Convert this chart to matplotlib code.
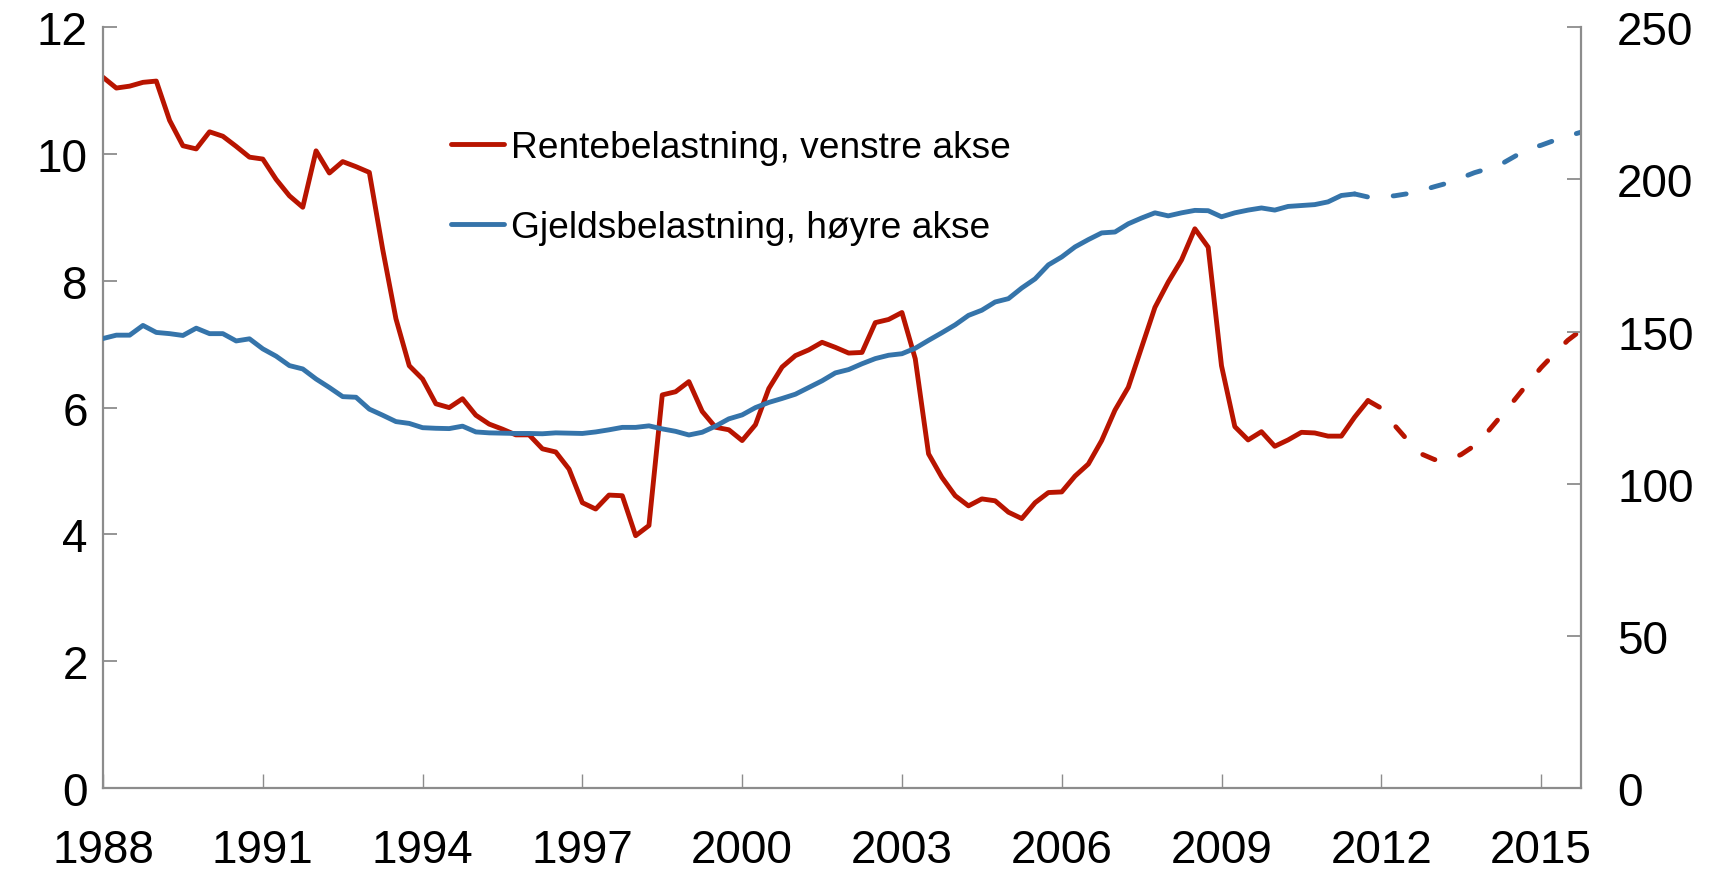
import matplotlib
matplotlib.use("Agg")
import matplotlib.pyplot as plt
import numpy as np

# Quarterly data from 1988Q1
START_YEAR = 1988

# Rentebelastning (left axis), actual 1988Q1-2011Q4
rente = [11.21, 11.04, 11.07, 11.13, 11.15, 10.53, 10.13, 10.08, 10.35, 10.28,
         10.12, 9.95, 9.92, 9.60, 9.34, 9.16, 10.05, 9.70, 9.88, 9.80,
         9.71, 8.50, 7.40, 6.66, 6.45, 6.06, 6.00, 6.14, 5.88, 5.74,
         5.66, 5.57, 5.57, 5.35, 5.30, 5.03, 4.50, 4.40, 4.62, 4.61,
         3.98, 4.14, 6.20, 6.25, 6.41, 5.94, 5.69, 5.65, 5.48, 5.73,
         6.30, 6.64, 6.82, 6.91, 7.03, 6.95, 6.86, 6.87, 7.34, 7.39,
         7.50, 6.77, 5.27, 4.90, 4.61, 4.45, 4.56, 4.53, 4.35, 4.25,
         4.50, 4.66, 4.67, 4.92, 5.11, 5.48, 5.96, 6.32, 6.95, 7.58,
         7.98, 8.33, 8.82, 8.53, 6.66, 5.70, 5.49, 5.62, 5.39, 5.49,
         5.61, 5.60, 5.55, 5.55, 5.85, 6.11]
# projection, starts at last actual quarter
rente_prognose = [6.11, 5.99, 5.72, 5.48, 5.27, 5.18, 5.17, 5.26, 5.40,
                  5.62, 5.87, 6.12, 6.38, 6.63, 6.85, 7.06, 7.22]

# Gjeldsbelastning (right axis), actual 1988Q1-2011Q3
gjeld = [147.7, 148.8, 148.8, 152.0, 149.7, 149.3, 148.7, 151.1, 149.3, 149.3,
         146.9, 147.6, 144.3, 141.9, 138.8, 137.7, 134.4, 131.6, 128.6, 128.4,
         124.5, 122.5, 120.4, 119.8, 118.4, 118.2, 118.1, 118.9, 117.0, 116.7,
         116.6, 116.5, 116.5, 116.4, 116.7, 116.6, 116.5, 117.0, 117.7, 118.5,
         118.5, 119.0, 118.0, 117.2, 116.0, 116.9, 118.9, 121.3, 122.6, 125.0,
         126.7, 128.0, 129.4, 131.6, 133.8, 136.4, 137.5, 139.4, 141.1, 142.2,
         142.7, 144.5, 147.1, 149.6, 152.2, 155.3, 157.0, 159.7, 160.8, 164.3,
         167.3, 171.9, 174.5, 177.8, 180.2, 182.4, 182.7, 185.4, 187.3, 189.0,
         188.0, 189.0, 189.8, 189.7, 187.7, 189.0, 189.9, 190.6, 189.9, 191.1,
         191.4, 191.7, 192.6, 194.7, 195.2]
gjeld_prognose = [195.2, 194.2, 194.3, 194.6, 195.3, 196.3, 197.6, 198.8, 200.5,
                  202.2, 203.5, 205.0, 207.5, 210.0, 211.2, 212.8, 214.2, 215.5]

labels = ["Rentebelastning, venstre akse", "Gjeldsbelastning, høyre akse"]
year_ticks = list(range(1988, 2016, 3))

RED = "#B81400"
BLUE = "#3574AA"
GREY = "#8C8C8C"
LW = 3.5


def quarters(n, start=0):
    return START_YEAR + (start + np.arange(n)) / 4.0


def main():
    plt.rcParams["font.family"] = ["Liberation Sans", "DejaVu Sans"]

    fig = plt.figure(figsize=(17.17, 8.70), dpi=100)
    ax = fig.add_axes([0.06, 0.0931, 0.8608, 0.8745])
    ax2 = ax.twinx()

    # -------------------------
    # lines
    # -------------------------
    dash = (0, (2.7, 5.3))
    x_r = quarters(len(rente))
    x_rp = quarters(len(rente_prognose), len(rente) - 1)
    l_red, = ax.plot(x_r, rente, color=RED, lw=LW, solid_joinstyle="round",
                     solid_capstyle="round")
    ax.plot(x_rp, rente_prognose, color=RED, lw=LW, ls=dash,
            dash_capstyle="round", dash_joinstyle="round")

    x_g = quarters(len(gjeld))
    x_gp = quarters(len(gjeld_prognose), len(gjeld) - 1)
    l_blue, = ax2.plot(x_g, gjeld, color=BLUE, lw=LW, solid_joinstyle="round",
                       solid_capstyle="round")
    ax2.plot(x_gp, gjeld_prognose, color=BLUE, lw=LW, ls=dash,
             dash_capstyle="round", dash_joinstyle="round")

    # -------------------------
    # axes
    # -------------------------
    ax.set_xlim(START_YEAR, START_YEAR + 111 / 4.0)
    ax.set_ylim(0, 12)
    ax2.set_ylim(0, 250)
    ax.set_yticks(range(0, 13, 2))
    ax2.set_yticks(range(0, 251, 50))
    ax.set_xticks(year_ticks)
    ax.set_xticklabels([str(y) for y in year_ticks])

    for a in (ax, ax2):
        for s in a.spines.values():
            s.set_color(GREY)
            s.set_linewidth(1.6)
        a.spines["top"].set_visible(False)
    ax.spines["right"].set_visible(False)
    ax2.spines["left"].set_visible(False)
    ax2.spines["bottom"].set_visible(False)

    ax.tick_params(axis="y", direction="in", length=10, width=1.3, color=GREY,
                   labelsize=33, pad=11)
    ax.tick_params(axis="x", direction="in", length=10, width=1.0, color=GREY,
                   labelsize=33, pad=29)
    ax2.tick_params(axis="y", direction="in", length=10, width=1.3, color=GREY,
                    labelsize=33, pad=26)

    # -------------------------
    # legend
    # -------------------------
    ax2.legend([l_red, l_blue], labels, loc="center left",
               bbox_to_anchor=(0.2627, 0.7836), bbox_transform=fig.transFigure,
               frameon=False, fontsize=26.7, handlelength=1.43,
               handletextpad=0.18, labelspacing=1.2, borderpad=0,
               borderaxespad=0)

    fig.savefig("out.png", dpi=100)
    plt.close(fig)


if __name__ == "__main__":
    main()
